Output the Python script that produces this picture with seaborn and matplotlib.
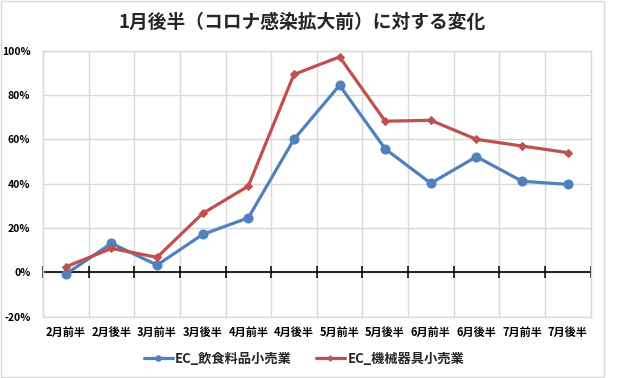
import matplotlib
matplotlib.use("Agg")
import matplotlib.pyplot as plt
from matplotlib.patches import Rectangle
import seaborn as sns
import numpy as np
import pandas as pd

categories = ["2月前半", "2月後半", "3月前半", "3月後半", "4月前半", "4月後半",
              "5月前半", "5月後半", "6月前半", "6月後半", "7月前半", "7月後半"]
food = [-0.8, 13.1, 3.3, 17.1, 24.6, 60.0, 84.4, 55.7, 40.2, 52.2, 41.1, 39.7]
machine = [2.5, 10.8, 6.8, 26.6, 38.9, 89.3, 97.2, 68.2, 68.6, 60.0, 57.0, 54.0]
series_names = ["EC_飲食料品小売業", "EC_機械器具小売業"]
y_ticks = [-20, 0, 20, 40, 60, 80, 100]
y_labels = ["-20%", "0%", "20%", "40%", "60%", "80%", "100%"]
title = "1月後半（コロナ感染拡大前）に対する変化"

sns.set_theme(style="white")
plt.rcParams["font.family"] = ["Noto Sans CJK JP", "DejaVu Sans"]

pos = np.arange(len(categories))
boundaries = np.arange(-0.5, len(categories), 1.0)
df = pd.DataFrame({
    "pos": np.concatenate([pos, pos]),
    "value": food + machine,
    "series": [series_names[0]] * len(pos) + [series_names[1]] * len(pos),
})

fig = plt.figure(figsize=(6.22, 3.78), dpi=100)
rect = [43 / 622, 1 - 316.7 / 378, (590.5 - 43) / 622, (316.7 - 50.7) / 378]
ax = fig.add_axes(rect)

blue = "#4F81BD"
red = "#C0504D"

# zero axis line with tick marks at category boundaries
ax.axhline(0, color="black", lw=1.2, zorder=2)
ax.plot(boundaries, np.zeros_like(boundaries), ls="none", marker="|", ms=8,
        mew=1.1, color="black", zorder=2, clip_on=False)

sns.lineplot(data=df[df.series == series_names[0]], x="pos", y="value", ax=ax,
             color=blue, lw=2.3, marker="o", markersize=6.5, markeredgecolor=blue,
             label=series_names[0], zorder=5)
sns.lineplot(data=df[df.series == series_names[1]], x="pos", y="value", ax=ax,
             color=red, lw=2.3, marker="D", markersize=4.5, markeredgecolor=red,
             label=series_names[1], zorder=6)

ax.set_xlim(-0.5, len(categories) - 0.5)
ax.set_ylim(-20, 100)
ax.set_yticks(y_ticks)
ax.set_yticklabels(y_labels)
ax.set_xticks(pos)
ax.set_xticklabels(categories)
ax.set_xticks(boundaries, minor=True)
ax.tick_params(axis="x", which="both", length=0, pad=7, labelsize=8)
ax.tick_params(axis="y", length=0, pad=9, labelsize=7.5)
for lab in ax.get_xticklabels() + ax.get_yticklabels():
    lab.set_fontweight("bold")
    lab.set_color("black")
ax.set_xlabel("")
ax.set_ylabel("")
ax.grid(False)
ax.grid(True, axis="y", which="major", color="#D9D9D9", lw=1)
ax.grid(True, axis="x", which="minor", color="#D9D9D9", lw=1)
ax.set_axisbelow(True)
for s in ax.spines.values():
    s.set_color("#D9D9D9")
    s.set_linewidth(1)

ax.get_legend().remove()
handles, labels = ax.get_legend_handles_labels()
handles, labels = handles[-2:], labels[-2:]
leg = fig.legend(handles, labels, loc="center", bbox_to_anchor=(304 / 622, 1 - 359 / 378),
                 ncol=2, frameon=False, fontsize=9.5, handlelength=2.2,
                 columnspacing=1.8, handletextpad=0.2, markerscale=0.6)
for t in leg.get_texts():
    t.set_fontweight("bold")

fig.text(302 / 622, 1 - 22 / 378, title, ha="center", va="center", fontsize=13.5,
         color="#262626", fontweight="bold")

fig.patches.append(Rectangle((1 / 622, 1 / 378), 603 / 622, 376 / 378,
                             transform=fig.transFigure, fill=False,
                             edgecolor="#D9D9D9", lw=1))

fig.savefig("out.png", dpi=100)
